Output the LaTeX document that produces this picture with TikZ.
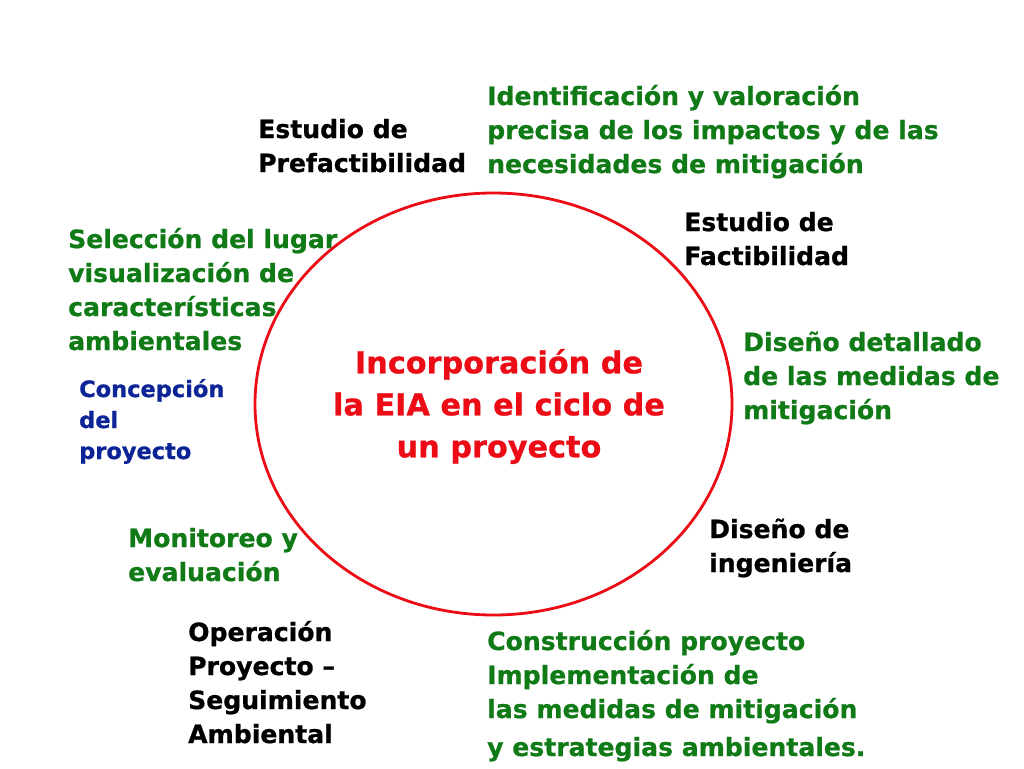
\documentclass[tikz,border=0pt]{standalone}
\usepackage{fontspec}
\setmainfont{DejaVu Sans}[BoldFeatures={FakeBold=0.8}]
\usetikzlibrary{shapes.geometric}
\definecolor{eiagreen}{RGB}{16,122,22}
\definecolor{eiablue}{RGB}{12,36,150}
\definecolor{eiared}{RGB}{235,12,22}
\tikzset{
	etapa/.style={anchor=base west, inner sep=0pt, align=left,
		font=\bfseries\fontsize{25.1}{34}\selectfont},
	accion/.style={etapa, text=eiagreen},
}
\begin{document}
\begin{tikzpicture}[x=1pt,y=-1pt]
		\fill[white] (0,0) rectangle (1024,768);
		\useasboundingbox (0,0) rectangle (1024,768);
		% ciclo
		\node[ellipse, draw=eiared, line width=2.8pt, minimum width=477pt, minimum height=422pt] (ciclo) at (493.5,404) {};
		\node[inner sep=0pt, align=center, text=eiared, font=\bfseries\fontsize{30.3}{42}\selectfont] (eia) at (499,406.5) {Incorporación de\\la EIA en el ciclo de\\un proyecto};
		% etapas (anclaje en la ultima linea)
		\node[etapa, text=eiablue, font=\bfseries\fontsize{22.5}{31}\selectfont] (concepcion) at (79,459) {Concepción\\del\\proyecto};
		\node[accion] (seleccion) at (68,350) {Selección del lugar\\visualización de\\características\\ambientales};
		\node[etapa] (prefact) at (258,172) {Estudio de\\Prefactibilidad};
		\node[accion] (identif) at (487,173) {Identificación y valoración\\precisa de los impactos y de las\\necesidades de mitigación};
		\node[etapa] (fact) at (684,265) {Estudio de\\Factibilidad};
		\node[accion] (detalle) at (743,419) {Diseño detallado\\de las medidas de\\mitigación};
		\node[etapa] (ingenieria) at (709,572) {Diseño de\\ingeniería};
		\node[accion] (construccion) at (487,756) {Construcción proyecto\\Implementación de\\las medidas de mitigación\\[4pt]y estrategias ambientales.};
		\node[etapa] (operacion) at (188,743) {Operación\\Proyecto –\\Seguimiento\\Ambiental};
		\node[accion] (monitoreo) at (128,581) {Monitoreo y\\evaluación};
		\end{tikzpicture}
\end{document}
